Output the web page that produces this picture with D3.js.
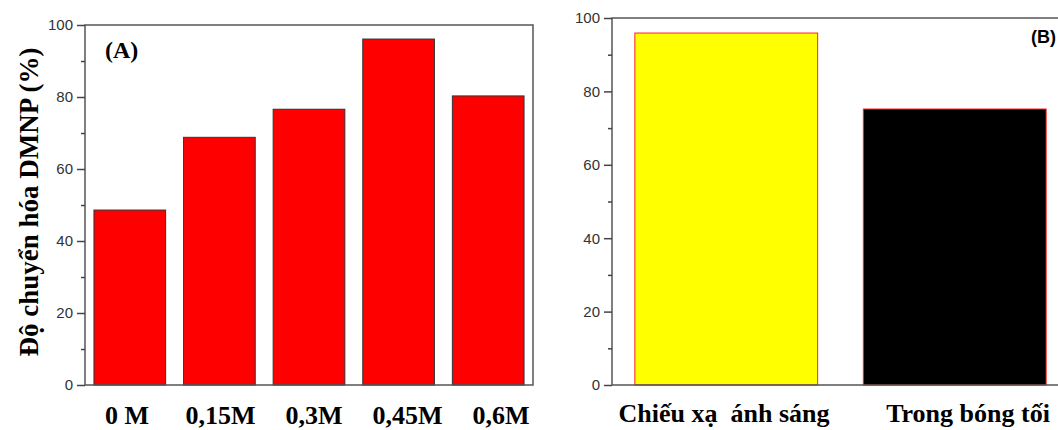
<!DOCTYPE html>
<html>
<head>
<meta charset="utf-8">
<script src="https://cdn.jsdelivr.net/npm/d3@7"></script>
<style>
  body { margin: 0; background: #fff; }
  svg { display: block; }
</style>
</head>
<body>
<div id="chart"></div>
<script>
// panel A: conversion vs concentration
var concLabels = ["0 M", "0,15M", "0,3M", "0,45M", "0,6M"];
var concValues = [48.6, 68.8, 76.6, 96.1, 80.3];

// panel B: light vs dark
var condLabels = ["Chiếu xạ  ánh sáng", "Trong bóng tối"];
var condValues = [95.9, 75.2];
var condColors = ["#ffff00", "#000000"];

var yTicks = [0, 20, 40, 60, 80, 100];
var yMinorTicks = [10, 30, 50, 70, 90];

var width = 1058,
  height = 430;

var svg = d3
  .select("#chart")
  .append("svg")
  .attr("width", width)
  .attr("height", height);

function drawPanel(p) {
  var g = svg.append("g");

  var x = d3
    .scaleBand()
    .domain(p.labels)
    .range([p.left, p.right])
    .paddingInner(0.2)
    .paddingOuter(0.1);
  var y = d3.scaleLinear().domain([0, 100]).range([p.bottom, p.top]);

  // bars
  g.selectAll(".bar")
    .data(p.values)
    .enter()
    .append("rect")
    .attr("class", "bar")
    .attr("x", function (d, i) {
      return x(p.labels[i]);
    })
    .attr("y", function (d) {
      return y(d);
    })
    .attr("width", x.bandwidth())
    .attr("height", function (d) {
      return y(0) - y(d);
    })
    .style("fill", function (d, i) {
      return p.fill[i % p.fill.length];
    })
    .style("stroke", p.stroke)
    .style("stroke-width", 1);

  // frame
  g.append("rect")
    .attr("x", p.left)
    .attr("y", p.top)
    .attr("width", p.right - p.left)
    .attr("height", p.bottom - p.top)
    .style("fill", "none")
    .style("stroke", "#555")
    .style("stroke-width", 1.5);

  // y axis, major + minor ticks
  var yAxis = g
    .append("g")
    .attr("transform", "translate(" + p.left + ",0)")
    .call(d3.axisLeft(y).tickValues(yTicks).tickSize(8).tickPadding(4));
  yAxis.select(".domain").remove();
  yAxis.selectAll("line").style("stroke", "#444").style("stroke-width", 1.5);
  yAxis
    .selectAll("text")
    .style("font-family", "'Liberation Sans', Arial, sans-serif")
    .style("font-size", "15px")
    .style("fill", "#333");

  var yMinor = g
    .append("g")
    .attr("transform", "translate(" + p.left + ",0)")
    .call(d3.axisLeft(y).tickValues(yMinorTicks).tickSize(4).tickFormat(""));
  yMinor.select(".domain").remove();
  yMinor.selectAll("line").style("stroke", "#444").style("stroke-width", 1.5);

  // category labels
  var lx = d3.scalePoint().domain(p.labels).range(p.labelRange);
  g.selectAll(".cat")
    .data(p.labels)
    .enter()
    .append("text")
    .attr("class", "cat")
    .attr("x", function (d) {
      return lx(d);
    })
    .attr("y", p.labelY)
    .attr("text-anchor", "middle")
    .style("white-space", "pre")
    .style("font-family", "'Liberation Serif', 'Times New Roman', serif")
    .style("font-weight", "bold")
    .style("font-size", "26px")
    .style("fill", "#000")
    .text(function (d) {
      return d;
    });

  // panel tag
  g.append("text")
    .attr("x", p.tag.x)
    .attr("y", p.tag.y)
    .style("font-family", p.tag.font)
    .style("font-weight", "bold")
    .style("font-size", p.tag.size)
    .style("fill", "#000")
    .text(p.tag.text);

  return g;
}

drawPanel({
  labels: concLabels,
  values: concValues,
  fill: ["#ff0000"],
  stroke: "#333",
  left: 85,
  right: 533,
  top: 25,
  bottom: 385,
  labelRange: [127, 501],
  labelY: 424,
  tag: {
    text: "(A)",
    x: 105,
    y: 58,
    size: "24px",
    font: "'Liberation Serif', 'Times New Roman', serif",
  },
});

drawPanel({
  labels: condLabels,
  values: condValues,
  fill: condColors,
  stroke: "#ff2020",
  left: 612,
  right: 1069,
  top: 18,
  bottom: 385,
  labelRange: [724, 968],
  labelY: 422,
  tag: {
    text: "(B)",
    x: 1031,
    y: 43,
    size: "18px",
    font: "'Liberation Sans', Arial, sans-serif",
  },
});

// shared y title
svg
  .append("text")
  .attr("transform", "translate(38,202) rotate(-90)")
  .attr("text-anchor", "middle")
  .style("font-family", "'Liberation Serif', 'Times New Roman', serif")
  .style("font-weight", "bold")
  .style("font-size", "27px")
  .style("fill", "#000")
  .text("Độ chuyển hóa DMNP (%)");
</script>
</body>
</html>
